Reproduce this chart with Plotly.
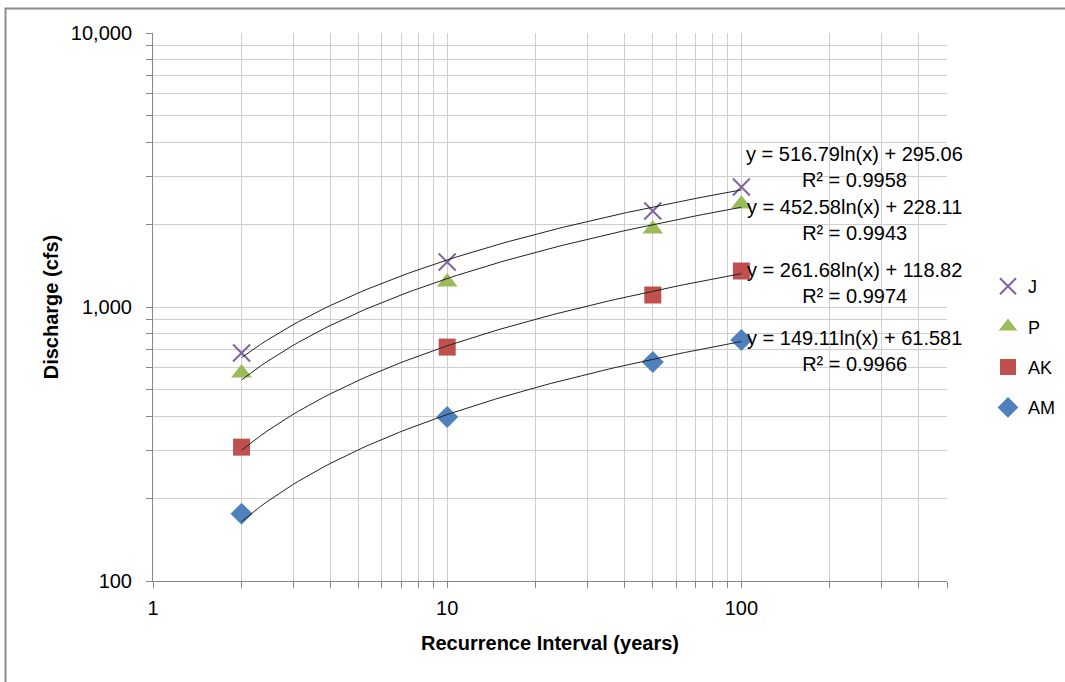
import numpy as np
import plotly.graph_objects as go

# ---- data ----
recurrence = [2, 10, 50, 100]
J = [679, 1459, 2240, 2740]
P = [574, 1233, 1927, 2376]
AK = [308, 714, 1106, 1353]
AM = [176, 397, 630, 758]

series_names = ["J", "P", "AK", "AM"]
series_values = [J, P, AK, AM]
fit_slope = [516.79, 452.58, 261.68, 149.11]
fit_intercept = [295.06, 228.11, 118.82, 61.581]
fit_r2 = ["0.9958", "0.9943", "0.9974", "0.9966"]
eq_labels = ["y = 516.79ln(x) + 295.06", "y = 452.58ln(x) + 228.11",
             "y = 261.68ln(x) + 118.82", "y = 149.11ln(x) + 61.581"]

x_tickvals = [1, 10, 100]
x_ticktext = ["1", "10", "100"]
y_tickvals = [100, 1000, 10000]
y_ticktext = ["100", "1,000", "10,000"]

# ---- styles ----
colors = ["#8064A2", "#9BBB59", "#C0504D", "#4F81BD"]
symbols = ["x-thin", "triangle-up", "square", "diamond"]
sizes = [17, 18, 17, 17]
FONT = "Liberation Sans"

fig = go.Figure()
for name, vals, c, s, sz in zip(series_names, series_values, colors, symbols, sizes):
    marker = dict(color=c, symbol=s, size=sz)
    if s == "x-thin":
        marker["line"] = dict(color=c, width=2)
    else:
        marker["line"] = dict(width=0)
    fig.add_trace(go.Scatter(x=recurrence, y=vals, mode="markers", name=name,
                             marker=marker, legendgroup=name))

# trendlines (logarithmic fits shown on the chart)
xs = np.logspace(np.log10(min(recurrence)), np.log10(max(recurrence)), 80)
for a, b in zip(fit_slope, fit_intercept):
    fig.add_trace(go.Scatter(x=xs, y=a * np.log(xs) + b, mode="lines",
                             line=dict(color="#222222", width=1),
                             showlegend=False, hoverinfo="skip"))

# minor grid positions
x_minor = [m * 10 ** e for e in range(0, 3) for m in range(2, 10) if m * 10 ** e <= 500]
y_minor = [m * 10 ** e for e in range(2, 4) for m in range(2, 10)]

L, R, T, B = 153, 947, 33, 581
W, H = 1065, 682
pw, ph = R - L, B - T

def px(xp):
    return (xp - L) / pw

def py(yp):
    return (B - yp) / ph

eq_centers_y = [167, 220, 283, 351]
for lab, r2, yc in zip(eq_labels, fit_r2, eq_centers_y):
    fig.add_annotation(x=px(854), y=py(yc), xref="paper", yref="paper",
                       text=lab + "<br>R² = " + r2, showarrow=False,
                       align="center", xanchor="center", yanchor="middle",
                       font=dict(family=FONT, size=20, color="#000000"))

grid_c = "#CFCFCF"
axis_c = "#868686"
fig.update_xaxes(type="log", range=[0, np.log10(500)],
                 tickvals=x_tickvals, ticktext=x_ticktext,
                 showgrid=True, gridcolor=grid_c, gridwidth=1,
                 showline=True, linecolor=axis_c, linewidth=1,
                 ticks="outside", ticklen=6, tickcolor=axis_c,
                 ticklabelstandoff=3,
                 tickfont=dict(family=FONT, size=20, color="#000000"),
                 minor=dict(tickvals=x_minor, showgrid=True, gridcolor=grid_c,
                            ticks="outside", ticklen=6, tickcolor=axis_c),
                 zeroline=False, mirror=False,
                 title=dict(text="<b>Recurrence Interval (years)</b>", standoff=17,
                            font=dict(family=FONT, size=20, color="#000000")))
fig.update_yaxes(type="log", range=[2, 4],
                 tickvals=y_tickvals, ticktext=y_ticktext,
                 showgrid=True, gridcolor=grid_c, gridwidth=1,
                 showline=True, linecolor=axis_c, linewidth=1,
                 ticks="outside", ticklen=6, tickcolor=axis_c,
                 ticklabelstandoff=10,
                 tickfont=dict(family=FONT, size=20, color="#000000"),
                 minor=dict(tickvals=y_minor, showgrid=True, gridcolor=grid_c,
                            ticks="outside", ticklen=6, tickcolor=axis_c),
                 zeroline=False,
                 title=dict(text="<b>Discharge (cfs)</b>", standoff=6,
                            font=dict(family=FONT, size=20, color="#000000")))

# outer chart border (left/top visible)
fig.add_shape(type="rect", xref="paper", yref="paper",
              x0=px(5.5), x1=px(1075), y0=py(695), y1=py(8.5),
              line=dict(color="#8C8C8C", width=2), layer="below")

fig.update_layout(width=W, height=H, autosize=False,
                  margin=dict(l=L, r=W - R, t=T, b=H - B, autoexpand=False),
                  paper_bgcolor="white", plot_bgcolor="white",
                  font=dict(family=FONT, size=20, color="#000000"),
                  showlegend=True,
                  legend=dict(x=px(988), y=py(268), xanchor="left", yanchor="top",
                              tracegroupgap=14, itemwidth=30,
                              bgcolor="rgba(0,0,0,0)",
                              font=dict(family=FONT, size=18, color="#000000")))

post = ("document.body.style.margin='0';document.body.style.padding='0';"
        "document.body.style.overflow='hidden';")
fig.write_html("out.html", config={"responsive": False, "displayModeBar": False},
               post_script=post)
